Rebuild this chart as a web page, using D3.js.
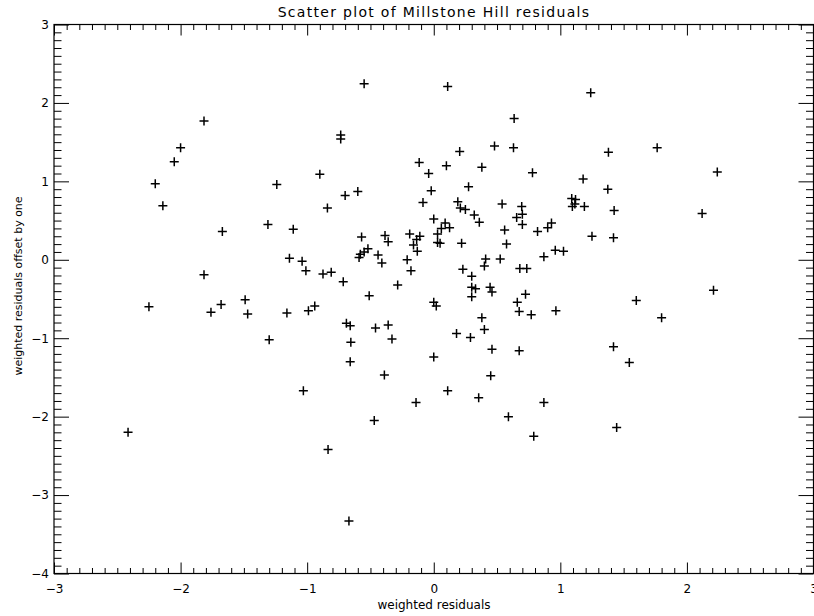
<!DOCTYPE html>
<html>
<head>
<meta charset="utf-8">
<script src="https://cdn.jsdelivr.net/npm/d3@7"></script>
<style>
  html, body { margin: 0; padding: 0; background: #fff; }
  svg { display: block; }
  text { font-family: "DejaVu Sans", "Liberation Sans", sans-serif; fill: #000; }
</style>
</head>
<body>
<svg id="chart" width="814" height="616"></svg>
<script>
// ---- data ----
const titleText = "Scatter plot of Millstone Hill residuals";
const xTitle = "weighted residuals";
const yTitle = "weighted residuals offset by one";
const xTicks = [-3, -2, -1, 0, 1, 2, 3];
const yTicks = [-4, -3, -2, -1, 0, 1, 2, 3];
const xDomain = [-3, 3];
const yDomain = [-4, 3];

const xValues = [
  -2.415, -2.25, -2.20, -2.14, -2.05, -2.00, -1.815, -1.815, -1.76, -1.68,
  -1.67, -1.49, -1.47, -1.31, -1.30, -1.24, -1.16, -1.14, -1.11, -1.04,
  -1.03, -1.01, -0.99, -0.94, -0.90, -0.875, -0.84, -0.835, -0.81, -0.735,
  -0.735, -0.715, -0.70, -0.69, -0.66, -0.655, -0.66, -0.67, -0.60, -0.59,
  -0.58, -0.57, -0.55, -0.55, -0.52, -0.51, -0.47, -0.46, -0.44, -0.41,
  -0.39, -0.385, -0.36, -0.36, -0.33, -0.285, -0.21, -0.19, -0.18, -0.16,
  -0.14, -0.135, -0.13, -0.115, -0.11, -0.085, -0.04, -0.02, 0.00, 0.00,
  0.00, 0.02, 0.03, 0.03, 0.05, 0.06, 0.09, 0.10, 0.11, 0.11,
  0.125, 0.18, 0.19, 0.205, 0.21, 0.22, 0.23, 0.25, 0.275, 0.29,
  0.30, 0.30, 0.30, 0.32, 0.33, 0.355, 0.36, 0.38, 0.38, 0.40,
  0.40, 0.41, 0.445, 0.45, 0.46, 0.46, 0.48, 0.525, 0.54, 0.56,
  0.575, 0.59, 0.63, 0.635, 0.655, 0.66, 0.675, 0.675, 0.68, 0.695,
  0.70, 0.70, 0.725, 0.735, 0.77, 0.78, 0.79, 0.82, 0.87, 0.87,
  0.90, 0.93, 0.96, 0.965, 1.025, 1.09, 1.095, 1.115, 1.12, 1.18,
  1.19, 1.24, 1.25, 1.375, 1.38, 1.42, 1.42, 1.425, 1.445, 1.545,
  1.60, 1.765, 1.80, 2.12, 2.21, 2.24
];
const yValues = [
  -2.20, -0.60, 0.97, 0.69, 1.25, 1.43, 1.77, -0.19, -0.67, -0.57,
  0.36, -0.51, -0.69, 0.45, -1.02, 0.96, -0.68, 0.02, 0.39, -0.02,
  -1.67, -0.14, -0.65, -0.59, 1.09, -0.18, 0.66, -2.42, -0.16, 1.59,
  1.54, -0.28, 0.82, -0.81, -0.84, -1.05, -1.30, -3.33, 0.87, 0.03,
  0.07, 0.29, 2.245, 0.10, 0.14, -0.46, -2.05, -0.87, 0.06, -0.04,
  -1.47, 0.31, 0.23, -0.83, -1.01, -0.32, 0.00, 0.33, -0.14, 0.19,
  -1.82, 0.26, 0.11, 1.24, 0.30, 0.73, 1.10, 0.88, -1.24, 0.52,
  -0.54, -0.59, 0.22, 0.33, 0.21, 0.40, 0.47, 1.20, -1.67, 2.21,
  0.41, -0.94, 0.74, 1.38, 0.66, 0.21, -0.12, 0.64, 0.93, -0.99,
  -0.21, -0.35, -0.47, 0.57, -0.37, -1.76, 0.48, 1.18, -0.74, -0.08,
  -0.89, 0.01, -0.35, -1.48, -0.41, -1.14, 1.45, 0.01, 0.71, 0.38,
  0.20, -2.00, 1.43, 1.80, 0.54, -0.54, -0.66, -1.16, -0.11, 0.68,
  0.58, 0.45, -0.44, -0.11, -0.70, 1.11, -2.25, 0.36, 0.04, -1.82,
  0.41, 0.47, 0.12, -0.65, 0.11, 0.78, 0.68, 0.71, 0.77, 1.03,
  0.68, 2.13, 0.30, 0.90, 1.37, 0.28, -1.11, 0.63, -2.14, -1.31,
  -0.52, 1.43, -0.74, 0.59, -0.39, 1.12
];

// ---- layout ----
const svg = d3.select("#chart");
const mLeft = 54, mRight = 813.5, mTop = 24.5, mBottom = 573.5;

const x = d3.scaleLinear().domain(xDomain).range([mLeft, mRight]);
const y = d3.scaleLinear().domain(yDomain).range([mBottom, mTop]);

const xMinor = d3.range(-30, 31).map(d => d / 10).filter(d => !xTicks.some(t => Math.abs(t - d) < 1e-9));
const yMinor = d3.range(-40, 31).map(d => d / 10).filter(d => !yTicks.some(t => Math.abs(t - d) < 1e-9));

const fmt = d => d < 0 ? "\u2212" + Math.abs(d) : String(d);

const xMajLen = 11, xMinLen = 5.5, yMajLen = 15, yMinLen = 7.5;

function styleAxis(g) {
  g.select(".domain").remove();
  g.selectAll(".tick line").attr("stroke", "#000").attr("stroke-width", 1);
  g.selectAll(".tick text").attr("font-size", 12).attr("font-family", "DejaVu Sans, sans-serif");
}

// bottom axis
svg.append("g").attr("transform", `translate(0,${mBottom})`)
  .call(d3.axisBottom(x).tickValues(xTicks).tickSize(-xMajLen).tickPadding(11).tickFormat(fmt))
  .call(styleAxis);
svg.append("g").attr("transform", `translate(0,${mBottom})`)
  .call(d3.axisBottom(x).tickValues(xMinor).tickSize(-xMinLen).tickFormat(""))
  .call(styleAxis);
// top axis
svg.append("g").attr("transform", `translate(0,${mTop})`)
  .call(d3.axisTop(x).tickValues(xTicks).tickSize(-xMajLen).tickFormat(""))
  .call(styleAxis);
svg.append("g").attr("transform", `translate(0,${mTop})`)
  .call(d3.axisTop(x).tickValues(xMinor).tickSize(-xMinLen).tickFormat(""))
  .call(styleAxis);
// left axis
svg.append("g").attr("transform", `translate(${mLeft},0)`)
  .call(d3.axisLeft(y).tickValues(yTicks).tickSize(-yMajLen).tickPadding(5).tickFormat(fmt))
  .call(styleAxis);
svg.append("g").attr("transform", `translate(${mLeft},0)`)
  .call(d3.axisLeft(y).tickValues(yMinor).tickSize(-yMinLen).tickFormat(""))
  .call(styleAxis);
// right axis
svg.append("g").attr("transform", `translate(${mRight},0)`)
  .call(d3.axisRight(y).tickValues(yTicks).tickSize(-yMajLen).tickFormat(""))
  .call(styleAxis);
svg.append("g").attr("transform", `translate(${mRight},0)`)
  .call(d3.axisRight(y).tickValues(yMinor).tickSize(-yMinLen).tickFormat(""))
  .call(styleAxis);

// box
svg.append("rect")
  .attr("x", mLeft).attr("y", mTop)
  .attr("width", mRight - mLeft).attr("height", mBottom - mTop)
  .attr("fill", "none").attr("stroke", "#000").attr("stroke-width", 1.2);

// points as '+'
const pts = xValues.map((v, i) => [v, yValues[i]]);
const arm = 4.5;
svg.append("g").selectAll("path").data(pts).join("path")
  .attr("d", d => {
    const px = x(d[0]), py = y(d[1]);
    return `M${px - arm},${py}H${px + arm}M${px},${py - arm}V${py + arm}`;
  })
  .attr("stroke", "#000").attr("stroke-width", 1.5).attr("fill", "none");

// titles
svg.append("text").attr("x", 434).attr("y", 17)
  .attr("text-anchor", "middle").attr("font-size", 14).attr("letter-spacing", 1.3).text(titleText);
svg.append("text").attr("x", 434).attr("y", 609)
  .attr("text-anchor", "middle").attr("font-size", 12).text(xTitle);
svg.append("text")
  .attr("transform", `translate(22,286) rotate(-90)`)
  .attr("text-anchor", "middle").attr("font-size", 11).text(yTitle);
</script>
</body>
</html>
